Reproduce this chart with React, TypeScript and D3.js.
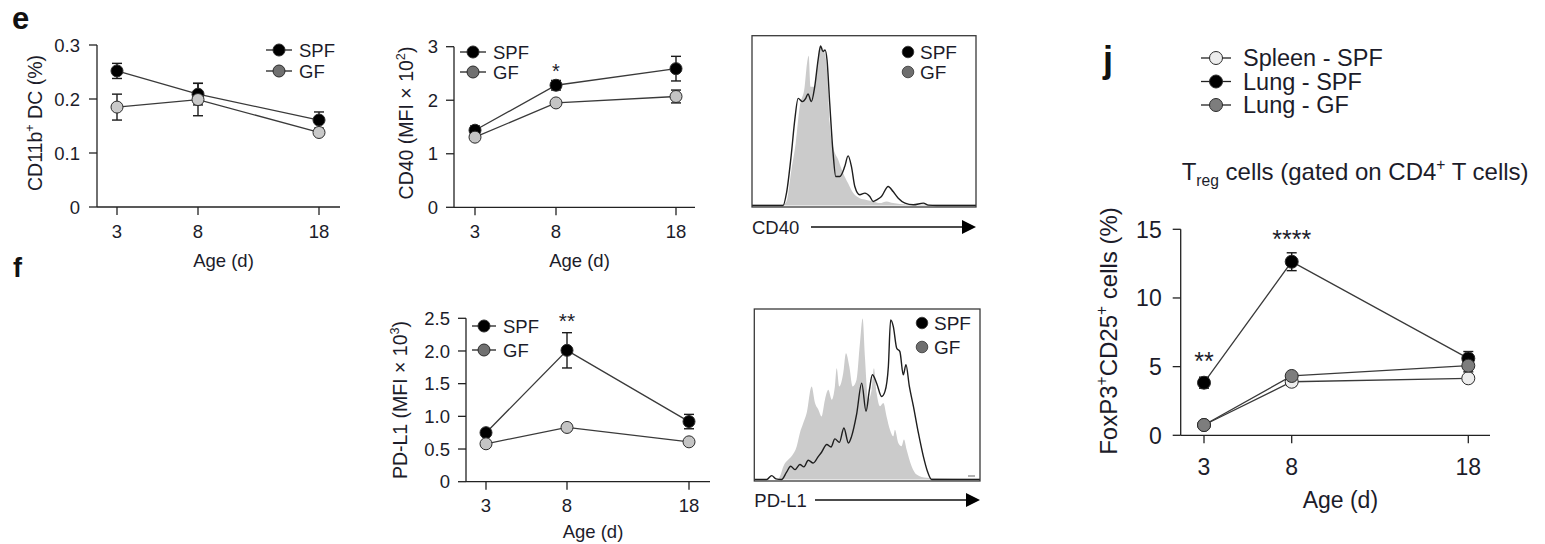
import React from "react";
import * as d3 from "d3";

const ages = [3, 8, 18];

// e: CD11b+ DC (%)
const dcSpf = [0.252, 0.209, 0.161];
const dcSpfErr = [0.014, 0.02, 0.015];
const dcGf = [0.185, 0.199, 0.138];
const dcGfErr = [0.024, 0.03, 0.004];
const dcTicks = [0, 0.1, 0.2, 0.3];

// e: CD40 (MFI x 10^2)
const cd40Spf = [1.44, 2.28, 2.59];
const cd40SpfErr = [0.08, 0.09, 0.23];
const cd40Gf = [1.31, 1.95, 2.07];
const cd40GfErr = [0.05, 0.04, 0.12];
const cd40Ticks = [0, 1, 2, 3];

// f: PD-L1 (MFI x 10^3)
const pdl1Spf = [0.75, 2.01, 0.92];
const pdl1SpfErr = [0.03, 0.27, 0.11];
const pdl1Gf = [0.58, 0.83, 0.61];
const pdl1GfErr = [0.02, 0.05, 0.02];
const pdl1Ticks = [0, 0.5, 1.0, 1.5, 2.0, 2.5];

// j: Treg FoxP3+CD25+ (%)
const tregSpleenSpf = [0.75, 3.9, 4.15];
const tregSpleenSpfErr = [0.1, 0.3, 0.15];
const tregLungSpf = [3.83, 12.64, 5.6];
const tregLungSpfErr = [0.4, 0.65, 0.5];
const tregLungGf = [0.75, 4.32, 5.07];
const tregLungGfErr = [0.1, 0.15, 0.45];
const tregTicks = [0, 5, 10, 15];

// histograms: [channel (% of range), count (% of mode)]
const cd40HistSpf: [number, number][] = [
  [0, 0], [13.9, 0], [15.4, 7.3], [17.6, 30.8], [19.1, 50.4], [20.6, 63.1], [22.5, 61.2],
  [24.0, 63.1], [25.0, 65.7], [26.5, 61.2], [28.0, 70], [29.5, 85.7], [30.6, 93.9],
  [31.7, 90.6], [32.6, 91.6], [33.5, 85.7], [34.7, 60.2], [36.2, 30.8], [37.4, 17.1],
  [39.2, 17.1], [41.4, 22.9], [42.9, 29.2], [44.4, 22.9], [45.9, 11.2], [48.1, 6.3],
  [50.4, 7.3], [52.6, 5.3], [54.1, 2.4], [55.6, 3.3], [57.8, 5.3], [60.8, 11.2],
  [63.0, 8.2], [65.3, 4.3], [68.3, 1.4], [72.0, 0.4], [76.5, 1.4], [78.7, 0.2],
  [82.4, 0], [100, 0],
];
const cd40HistGf: [number, number][] = [
  [0, 0.6], [13.9, 0.6], [15.4, 2.4], [17.6, 21], [19.5, 36.7], [21.3, 58.2], [23.5, 70],
  [24.6, 84], [25.3, 88.2], [26.1, 70], [28.0, 70], [29.8, 89.6], [31.0, 93.5],
  [32.5, 89.6], [33.5, 79.8], [34.7, 48.4], [36.2, 34.7], [38.5, 26.9], [40.7, 19],
  [42.9, 13.1], [45.2, 7.3], [48.1, 4.3], [51.1, 3.3], [54.1, 2.4], [57.1, 1.4],
  [60.1, 2.4], [63.0, 1.4], [69.0, 0.6], [100, 0.6],
];
const pdl1HistSpf: [number, number][] = [
  [0, 0], [5.5, 0], [7.7, 2.3], [9.6, 0.4], [12.1, 0], [14.3, 4.3], [16.1, 7.8], [18.0, 5.8],
  [20.2, 8.8], [22.0, 7.4], [23.9, 11.3], [26.1, 9.7], [28.4, 13.6], [29.8, 16.0],
  [32.1, 20.5], [34.0, 19.1], [35.7, 23.8], [37.7, 21.8], [39.7, 30.2], [41.7, 21.4],
  [43.1, 25.3], [45.3, 38.0], [47.6, 56.5], [49.5, 40.0], [51.0, 52.6], [52.3, 61.4],
  [54.2, 56.5], [56.4, 48.7], [57.9, 51.7], [59.4, 66.3], [60.4, 93.6], [61.6, 89.7],
  [63.1, 77.0], [64.5, 75.0], [66.0, 61.4], [67.2, 67.3], [68.7, 54.6], [70.5, 42.9],
  [72.7, 27.3], [74.9, 13.6], [76.7, 4.9], [78.6, 0], [100, 0],
];
const pdl1HistGf: [number, number][] = [
  [0, 0], [9.9, 0], [11.4, 1.9], [12.9, 7.8], [15.1, 11.7], [16.5, 13.6], [18.8, 19.5],
  [20.2, 27.3], [21.7, 33.1], [23.2, 39.0], [25.4, 54.6], [26.9, 44.8], [28.4, 40.9],
  [29.8, 37.0], [31.3, 46.8], [32.8, 52.6], [34.3, 46.8], [35.7, 54.6], [36.5, 65.3],
  [37.7, 54.6], [39.4, 62.4], [40.6, 74.1], [42.1, 66.3], [43.6, 54.6], [45.3, 58.5],
  [46.8, 79.9], [48.0, 94.5], [49.0, 72.1], [50.5, 46.8], [52.0, 52.6], [53.0, 65.3],
  [54.2, 50.7], [55.7, 42.9], [57.2, 44.8], [58.6, 37.0], [60.1, 29.2], [61.6, 25.3],
  [62.3, 29.2], [63.8, 21.4], [65.3, 19.5], [66.3, 23.4], [67.5, 17.5], [69.7, 7.8],
  [71.9, 2.9], [76.4, 1.0], [100, 0.4],
];

const FONT = "'Liberation Sans', Arial, Helvetica, sans-serif";
const INK = "#1c1c2a";

type Series = { name: string; values: number[]; errors: number[]; fill: string; legendFill: string };

type PanelProps = {
  left: number;
  right: number;
  top: number;
  bottom: number;
  agePx: number[];
  yMax: number;
  yTicks: number[];
  fmt: (d: number) => string;
  series: Series[];
  fs: number;
  labelGap: number;
  xLabelDy: number;
  xTitleDy: number;
  r: number;
  legend: { x: number; y: number; dy: number; fs: number; textDx: number; half: number };
  yTitle: { x: number; y: number; fs: number; content: React.ReactNode };
  stars?: { age: number; y: number; text: string; fs: number }[];
};

function LinePanel(p: PanelProps) {
  const x = d3.scaleLinear().domain(ages).range(p.agePx);
  const y = d3.scaleLinear().domain([0, p.yMax]).range([p.bottom, p.top]);
  const line = d3
    .line<number>()
    .x((_, i) => x(ages[i]))
    .y((d) => y(d));
  const tick = 8;
  return (
    <g fontFamily={FONT} fill={INK}>
      {/* axes */}
      <line x1={p.left} x2={p.left} y1={p.top} y2={p.bottom} stroke="#222" strokeWidth={1.3} />
      <line x1={p.left} x2={p.right} y1={p.bottom} y2={p.bottom} stroke="#222" strokeWidth={1.3} />
      {p.yTicks.map((t) => (
        <g key={t}>
          <line x1={p.left - tick} x2={p.left} y1={y(t)} y2={y(t)} stroke="#222" strokeWidth={1.3} />
          <text x={p.left - p.labelGap} y={y(t)} dy="0.36em" textAnchor="end" fontSize={p.fs}>
            {p.fmt(t)}
          </text>
        </g>
      ))}
      {ages.map((a) => (
        <g key={a}>
          <line x1={x(a)} x2={x(a)} y1={p.bottom} y2={p.bottom + tick} stroke="#222" strokeWidth={1.3} />
          <text x={x(a)} y={p.bottom + p.xLabelDy} textAnchor="middle" fontSize={p.fs}>
            {a}
          </text>
        </g>
      ))}
      <text x={(p.left + p.right) / 2 + 5} y={p.bottom + p.xTitleDy} textAnchor="middle" fontSize={p.fs}>
        Age (d)
      </text>
      <text
        transform={`translate(${p.yTitle.x},${p.yTitle.y}) rotate(-90)`}
        textAnchor="middle"
        fontSize={p.yTitle.fs}
      >
        {p.yTitle.content}
      </text>
      {/* series lines */}
      {p.series.map((s) => (
        <path key={s.name} d={line(s.values) || ""} fill="none" stroke="#3a3a3a" strokeWidth={1.3} />
      ))}
      {/* error bars */}
      {p.series.map((s) =>
        s.values.map((v, i) => {
          const cx = x(ages[i]);
          const hi = y(v + s.errors[i]);
          const lo = y(v - s.errors[i]);
          return (
            <g key={s.name + i} stroke="#1a1a1a" strokeWidth={1.4}>
              <line x1={cx} x2={cx} y1={hi} y2={lo} />
              <line x1={cx - 5} x2={cx + 5} y1={hi} y2={hi} />
              <line x1={cx - 5} x2={cx + 5} y1={lo} y2={lo} />
            </g>
          );
        })
      )}
      {/* markers */}
      {p.series.map((s) =>
        s.values.map((v, i) => (
          <circle key={s.name + "c" + i} cx={x(ages[i])} cy={y(v)} r={p.r} fill={s.fill} stroke="#2a2a2a" strokeWidth={1} />
        ))
      )}
      {/* significance */}
      {(p.stars || []).map((st) => (
        <text key={st.text + st.age} x={x(st.age)} y={st.y} textAnchor="middle" fontSize={st.fs}>
          {st.text}
        </text>
      ))}
      {/* legend */}
      {p.series.map((s, i) => {
        const ly = p.legend.y + i * p.legend.dy;
        return (
          <g key={s.name + "lg"}>
            <line x1={p.legend.x - p.legend.half} x2={p.legend.x + p.legend.half} y1={ly} y2={ly} stroke="#222" strokeWidth={1.3} />
            <circle cx={p.legend.x} cy={ly} r={p.r} fill={s.legendFill} stroke="#2a2a2a" strokeWidth={1} />
            <text x={p.legend.x + p.legend.textDx} y={ly} dy="0.36em" fontSize={p.legend.fs}>
              {s.name}
            </text>
          </g>
        );
      })}
    </g>
  );
}

type HistProps = {
  left: number;
  right: number;
  top: number;
  bottom: number;
  spf: [number, number][];
  gf: [number, number][];
  legendX: number;
  legendY: number;
  legendDy: number;
  label: string;
  labelY: number;
  arrowStart: number;
  tickMark?: boolean;
};

function Histogram(p: HistProps) {
  const x = d3.scaleLinear().domain([0, 100]).range([p.left, p.right]);
  const y = d3.scaleLinear().domain([0, 100]).range([p.bottom - 1.5, p.top]);
  const area = d3
    .area<[number, number]>()
    .x((d) => x(d[0]))
    .y0(y(0))
    .y1((d) => y(d[1]))
    .curve(d3.curveMonotoneX);
  const line = d3
    .line<[number, number]>()
    .x((d) => x(d[0]))
    .y((d) => y(d[1]))
    .curve(d3.curveMonotoneX);
  return (
    <g fontFamily={FONT} fill={INK}>
      <path d={area(p.gf) || ""} fill="#cbcbcb" stroke="none" />
      <path d={line(p.spf) || ""} fill="none" stroke="#1e1e1e" strokeWidth={1.4} />
      <rect x={p.left} y={p.top} width={p.right - p.left} height={p.bottom - p.top} fill="none" stroke="#3a3a3a" strokeWidth={1.3} />
      {p.tickMark && (
        <line x1={p.right - 12} x2={p.right - 5} y1={p.bottom - 5} y2={p.bottom - 5} stroke="#999" strokeWidth={1.5} />
      )}
      {[
        { name: "SPF", fill: "#000" },
        { name: "GF", fill: "#6e6e6e" },
      ].map((l, i) => (
        <g key={l.name}>
          <circle cx={p.legendX} cy={p.legendY + i * p.legendDy} r={5.8} fill={l.fill} stroke="#333" strokeWidth={0.8} />
          <text x={p.legendX + 12} y={p.legendY + i * p.legendDy} dy="0.36em" fontSize={19}>
            {l.name}
          </text>
        </g>
      ))}
      <text x={p.left} y={p.labelY} dy="0.36em" fontSize={18.5}>
        {p.label}
      </text>
      <line x1={p.arrowStart} x2={p.right - 12} y1={p.labelY} y2={p.labelY} stroke="#111" strokeWidth={1.3} />
      <path d={`M${p.right - 14},${p.labelY - 7}L${p.right},${p.labelY}L${p.right - 14},${p.labelY + 7}Z`} fill="#000" />
    </g>
  );
}

// superscript followed by the rest of the text at the normal baseline
const sup = (t: string, fs: number, rest: string) => (
  <>
    <tspan dy={-fs * 0.4} fontSize={fs * 0.65}>
      {t}
    </tspan>
    <tspan dy={fs * 0.4}>{rest}</tspan>
  </>
);

export default function App() {
  const fs = 18.5;
  const jfs = 23;
  return (
    <svg
      width={1545}
      height={544}
      style={{ position: "absolute", left: 0, top: 0, background: "#fff" }}
    >
      <rect width={1545} height={544} fill="#fff" />
      {/* panel letters */}
      <text x={12} y={29} fontFamily={FONT} fontWeight="bold" fontSize={31} fill="#111">
        e
      </text>
      <text x={13} y={277} fontFamily={FONT} fontWeight="bold" fontSize={27} fill="#111">
        f
      </text>
      <text x={1103} y={72} fontFamily={FONT} fontWeight="bold" fontSize={36} fill="#111">
        j
      </text>

      <LinePanel
        left={97}
        right={340}
        top={45}
        bottom={207}
        agePx={[117, 198, 319]}
        yMax={0.3}
        yTicks={dcTicks}
        fmt={(d) => (d === 0 ? "0" : d.toFixed(1))}
        series={[
          { name: "SPF", values: dcSpf, errors: dcSpfErr, fill: "#000", legendFill: "#000" },
          { name: "GF", values: dcGf, errors: dcGfErr, fill: "#c9c9c9", legendFill: "#707070" },
        ]}
        fs={fs}
        labelGap={17}
        xLabelDy={31}
        xTitleDy={59.5}
        r={6}
        legend={{ x: 279, y: 50, dy: 21, fs: fs, textDx: 20, half: 13 }}
        yTitle={{
          x: 41.5,
          y: 123,
          fs: 19.5,
          content: <>CD11b{sup("+", 19.5, " DC (%)")}</>,
        }}
      />

      <LinePanel
        left={454}
        right={695}
        top={46.7}
        bottom={207.3}
        agePx={[475, 556, 676]}
        yMax={3}
        yTicks={cd40Ticks}
        fmt={(d) => String(d)}
        series={[
          { name: "SPF", values: cd40Spf, errors: cd40SpfErr, fill: "#000", legendFill: "#000" },
          { name: "GF", values: cd40Gf, errors: cd40GfErr, fill: "#c4c4c4", legendFill: "#707070" },
        ]}
        fs={fs}
        labelGap={16}
        xLabelDy={31}
        xTitleDy={59.5}
        r={6}
        legend={{ x: 473, y: 52, dy: 20, fs: fs, textDx: 20, half: 13 }}
        yTitle={{
          x: 413,
          y: 123,
          fs: 19.5,
          content: <>CD40 (MFI {"\u00d7"} 10{sup("2", 19.5, ")")}</>,
        }}
        stars={[{ age: 8, y: 78, text: "*", fs: 20 }]}
      />

      <Histogram
        left={752}
        right={976}
        top={35.7}
        bottom={207}
        spf={cd40HistSpf}
        gf={cd40HistGf}
        legendX={908}
        legendY={52}
        legendDy={20}
        label="CD40"
        labelY={227}
        arrowStart={811}
      />

      <LinePanel
        left={466}
        right={710}
        top={318.3}
        bottom={481.7}
        agePx={[486, 567, 689]}
        yMax={2.5}
        yTicks={pdl1Ticks}
        fmt={(d) => (d === 0 ? "0" : d.toFixed(1))}
        series={[
          { name: "SPF", values: pdl1Spf, errors: pdl1SpfErr, fill: "#000", legendFill: "#000" },
          { name: "GF", values: pdl1Gf, errors: pdl1GfErr, fill: "#c4c4c4", legendFill: "#707070" },
        ]}
        fs={fs}
        labelGap={16}
        xLabelDy={30}
        xTitleDy={56.5}
        r={6}
        legend={{ x: 484, y: 326, dy: 24, fs: fs, textDx: 19, half: 12 }}
        yTitle={{
          x: 406.5,
          y: 400,
          fs: 19.5,
          content: <>PD-L1 (MFI {"\u00d7"} 10{sup("3", 19.5, ")")}</>,
        }}
        stars={[{ age: 8, y: 328, text: "**", fs: 21 }]}
      />

      <Histogram
        left={754.3}
        right={980}
        top={309}
        bottom={481}
        spf={pdl1HistSpf}
        gf={pdl1HistGf}
        legendX={922}
        legendY={323}
        legendDy={24}
        label="PD-L1"
        labelY={500}
        arrowStart={815}
        tickMark
      />

      {/* j */}
      <text x={1181.7} y={180} fontFamily={FONT} fontSize={24} fill={INK}>
        T
        <tspan dy={6} fontSize={24 * 0.65}>
          reg
        </tspan>
        <tspan dy={-6}> cells (gated on CD4</tspan>
        {sup("+", 24, " T cells)")}
      </text>

      <LinePanel
        left={1180.7}
        right={1490}
        top={229.3}
        bottom={435.3}
        agePx={[1204, 1291.7, 1468.3]}
        yMax={15}
        yTicks={tregTicks}
        fmt={(d) => String(d)}
        series={[
          { name: "Spleen - SPF", values: tregSpleenSpf, errors: tregSpleenSpfErr, fill: "#ededed", legendFill: "#ededed" },
          { name: "Lung - SPF", values: tregLungSpf, errors: tregLungSpfErr, fill: "#000", legendFill: "#000" },
          { name: "Lung - GF", values: tregLungGf, errors: tregLungGfErr, fill: "#7d7d7d", legendFill: "#7d7d7d" },
        ]}
        fs={jfs}
        labelGap={19}
        xLabelDy={40}
        xTitleDy={73}
        r={6.5}
        legend={{ x: 1216, y: 58, dy: 23.5, fs: 23.5, textDx: 27, half: 15 }}
        yTitle={{
          x: 1117,
          y: 331,
          fs: 24,
          content: (
            <>
              FoxP3
              {sup("+", 24, "CD25")}
              {sup("+", 24, " cells (%)")}
            </>
          ),
        }}
        stars={[
          { age: 3, y: 370, text: "**", fs: 25 },
          { age: 8, y: 248, text: "****", fs: 25 },
        ]}
      />
    </svg>
  );
}
